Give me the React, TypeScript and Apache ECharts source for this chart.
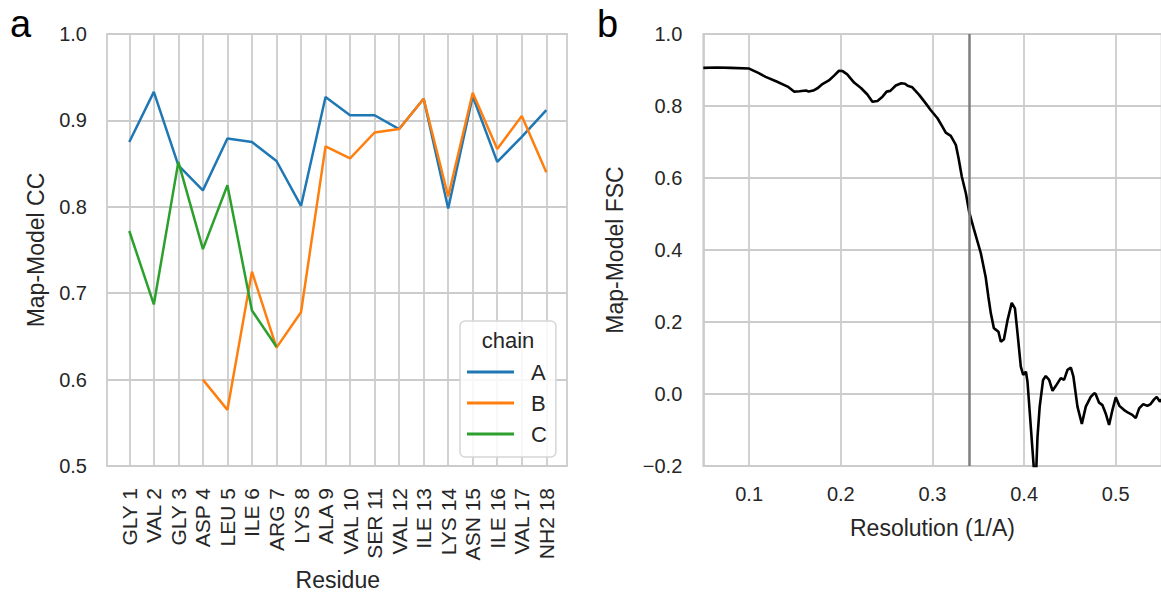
import React, { useEffect, useRef } from "react";
import * as echarts from "echarts";

const residues = [
  "GLY 1", "VAL 2", "GLY 3", "ASP 4", "LEU 5", "ILE 6", "ARG 7", "LYS 8", "ALA 9",
  "VAL 10", "SER 11", "VAL 12", "ILE 13", "LYS 14", "ASN 15", "ILE 16", "VAL 17", "NH2 18",
];
const chainA = [0.875, 0.933, 0.848, 0.819, 0.879, 0.875, 0.853, 0.801, 0.927, 0.906, 0.906, 0.89, 0.925, 0.798, 0.928, 0.852, 0.881, 0.912];
const chainB = [null, null, null, 0.6, 0.565, 0.725, 0.637, 0.678, 0.87, 0.856, 0.886, 0.89, 0.925, 0.812, 0.932, 0.867, 0.905, 0.84];
const chainC = [0.772, 0.687, 0.852, 0.751, 0.825, 0.68, 0.638, null, null, null, null, null, null, null, null, null, null, null];

const fscRes = [
  0.05, 0.065, 0.08, 0.1, 0.11, 0.118, 0.13, 0.142, 0.149, 0.155, 0.162, 0.165, 0.17, 0.175, 0.18, 0.187, 0.193, 0.198,
  0.202, 0.207, 0.2145, 0.222, 0.229, 0.2345, 0.24, 0.2455, 0.25, 0.254, 0.26, 0.266, 0.27, 0.273, 0.278, 0.2855,
  0.2925, 0.298, 0.3055, 0.311, 0.3145, 0.32, 0.3255, 0.3285, 0.332, 0.3365, 0.34, 0.345, 0.3528, 0.358, 0.361,
  0.3637, 0.367, 0.372, 0.3746, 0.378, 0.382, 0.3865, 0.39, 0.3928, 0.3964, 0.399, 0.402, 0.4037, 0.4073, 0.411,
  0.4125, 0.4146, 0.417, 0.4207, 0.4236, 0.4273, 0.431, 0.4345, 0.44, 0.4436, 0.4473, 0.451, 0.4538, 0.4582, 0.463,
  0.4673, 0.4727, 0.4764, 0.478, 0.4818, 0.4855, 0.489, 0.4927, 0.4964, 0.5, 0.504, 0.5088, 0.5135, 0.518, 0.5218,
  0.5255, 0.53, 0.5345, 0.538, 0.5418, 0.5447, 0.548, 0.55,
];
const fscVal = [
  0.906, 0.907, 0.906, 0.904, 0.892, 0.881, 0.868, 0.854, 0.84, 0.841, 0.843, 0.84, 0.843, 0.85, 0.861, 0.871, 0.885, 0.898,
  0.897, 0.888, 0.865, 0.85, 0.832, 0.812, 0.814, 0.826, 0.84, 0.842, 0.857, 0.863, 0.862, 0.856, 0.852, 0.831,
  0.808, 0.789, 0.766, 0.742, 0.726, 0.717, 0.692, 0.655, 0.604, 0.557, 0.506, 0.46, 0.391, 0.326, 0.27,
  0.224, 0.183, 0.173, 0.145, 0.152, 0.206, 0.253, 0.238, 0.169, 0.076, 0.053, 0.062, 0.034, -0.091, -0.22,
  -0.26, -0.12, -0.035, 0.039, 0.05, 0.039, 0.009, 0.022, 0.044, 0.039, 0.067, 0.073, 0.048, -0.035, -0.083,
  -0.035, -0.008, 0.002, 0.0, -0.024, -0.031, -0.054, -0.086, -0.044, -0.009, -0.033, -0.044, -0.052, -0.058, -0.067,
  -0.04, -0.028, -0.033, -0.028, -0.015, -0.008, -0.021, -0.015,
];
const resolutionCutoff = 0.341;

const FONT = "'Liberation Sans', Arial, Helvetica, sans-serif";
const TXT = "#262626";
const GRIDC = "#cccccc";
const GW = 1.8;

const fmt = (v: number) => {
  const s = (Math.abs(v) < 1e-9 ? 0 : v).toFixed(1);
  return s.replace("-", "\u2212");
};

export default function App() {
  const ref = useRef<HTMLDivElement>(null);
  useEffect(() => {
    if (!ref.current) return;
    const chart = echarts.init(ref.current, undefined, { renderer: "svg" });
    const splitLine = { show: true, lineStyle: { color: GRIDC, width: GW } };
    const labelStyle = { color: TXT, fontSize: 20, fontFamily: FONT };
    const nameStyle = { color: TXT, fontSize: 23, fontFamily: FONT, lineHeight: 23 };
    const fixed = { containLabel: false, outerBoundsMode: "none" };
    chart.setOption({
      animation: false,
      backgroundColor: "#ffffff",
      textStyle: { fontFamily: FONT },
      grid: [
        { ...fixed, left: 107, top: 34, width: 460, height: 432, show: true, borderColor: GRIDC, borderWidth: GW, backgroundColor: "transparent" },
        { ...fixed, left: 129.3, top: 34, width: 417, height: 432 },
        { ...fixed, left: 703.3, top: 34, width: 458.3, height: 432, show: true, borderColor: GRIDC, borderWidth: GW, backgroundColor: "transparent" },
      ],
      xAxis: [
        { gridIndex: 0, type: "value", show: false, min: 0, max: 1 },
        {
          gridIndex: 1, type: "category", data: residues, boundaryGap: false,
          axisLine: { show: false }, axisTick: { show: false },
          axisLabel: { ...labelStyle, fontSize: 21, rotate: 90, margin: 22, interval: 0 },
          splitLine: { ...splitLine, interval: 0 },
          name: "Residue", nameLocation: "middle", nameGap: 102, nameTextStyle: nameStyle,
        },
        {
          gridIndex: 2, type: "value", min: 0.05, max: 0.55, splitNumber: 5,
          axisLine: { show: false }, axisTick: { show: false },
          axisLabel: { ...labelStyle, margin: 18, showMinLabel: false, showMaxLabel: false, formatter: (v: number) => fmt(v) },
          splitLine,
          name: "Resolution (1/A)", nameLocation: "middle", nameGap: 50, nameTextStyle: nameStyle,
        },
      ],
      yAxis: [
        {
          gridIndex: 0, type: "value", min: 0.5, max: 1.0, interval: 0.1,
          axisLine: { show: false }, axisTick: { show: false },
          axisLabel: { ...labelStyle, margin: 20, formatter: (v: number) => fmt(v) },
          splitLine,
          name: "Map-Model CC", nameLocation: "middle", nameGap: 60, nameTextStyle: nameStyle,
        },
        { gridIndex: 1, type: "value", min: 0.5, max: 1.0, show: false },
        {
          gridIndex: 2, type: "value", min: -0.2, max: 1.0, interval: 0.2,
          axisLine: { show: false }, axisTick: { show: false },
          axisLabel: { ...labelStyle, margin: 21, formatter: (v: number) => fmt(v) },
          splitLine,
          name: "Map-Model FSC", nameLocation: "middle", nameGap: 77, nameTextStyle: nameStyle,
        },
      ],
      legend: {
        data: ["A", "B", "C"],
        orient: "vertical",
        left: 460,
        top: 321,
        icon: "rect",
        itemWidth: 47,
        itemHeight: 3,
        itemGap: 9,
        padding: [40, 9, 12, 7],
        backgroundColor: "rgba(255,255,255,0.85)",
        borderColor: "#d6d6d6",
        borderWidth: 1.5,
        borderRadius: 5,
        textStyle: { color: TXT, fontSize: 22, fontFamily: FONT, lineHeight: 22, padding: [0, 0, 0, 12] },
      },
      graphic: [
        { type: "text", left: 10, top: 5, z: 10, style: { text: "a", fontSize: 38, fontFamily: FONT, fill: "#000" } },
        { type: "text", left: 597, top: 5, z: 10, style: { text: "b", fontSize: 38, fontFamily: FONT, fill: "#000" } },
        { type: "text", x: 508, y: 340, z: 10, style: { text: "chain", fontSize: 22, fontFamily: FONT, fill: TXT, textAlign: "center", textVerticalAlign: "middle" } },
      ],
      series: [
        { name: "A", type: "line", xAxisIndex: 1, yAxisIndex: 1, data: chainA, showSymbol: false, color: "#1f77b4", lineStyle: { width: 2.5 } },
        { name: "B", type: "line", xAxisIndex: 1, yAxisIndex: 1, data: chainB, showSymbol: false, color: "#ff7f0e", lineStyle: { width: 2.5 } },
        { name: "C", type: "line", xAxisIndex: 1, yAxisIndex: 1, data: chainC, showSymbol: false, color: "#2ca02c", lineStyle: { width: 2.5 } },
        {
          name: "FSC", type: "line", xAxisIndex: 2, yAxisIndex: 2,
          data: fscRes.map((r, i) => [r, fscVal[i]]),
          showSymbol: false, color: "#000000", lineStyle: { width: 2.6 },
          markLine: {
            silent: true, symbol: ["none", "none"], label: { show: false },
            lineStyle: { color: "#7f7f7f", width: 2.5, type: "solid" },
            data: [{ xAxis: resolutionCutoff }],
          },
        },
      ],
    });
    return () => chart.dispose();
  }, []);
  return <div ref={ref} style={{ position: "absolute", left: 0, top: 0, width: 1161, height: 593 }} />;
}
